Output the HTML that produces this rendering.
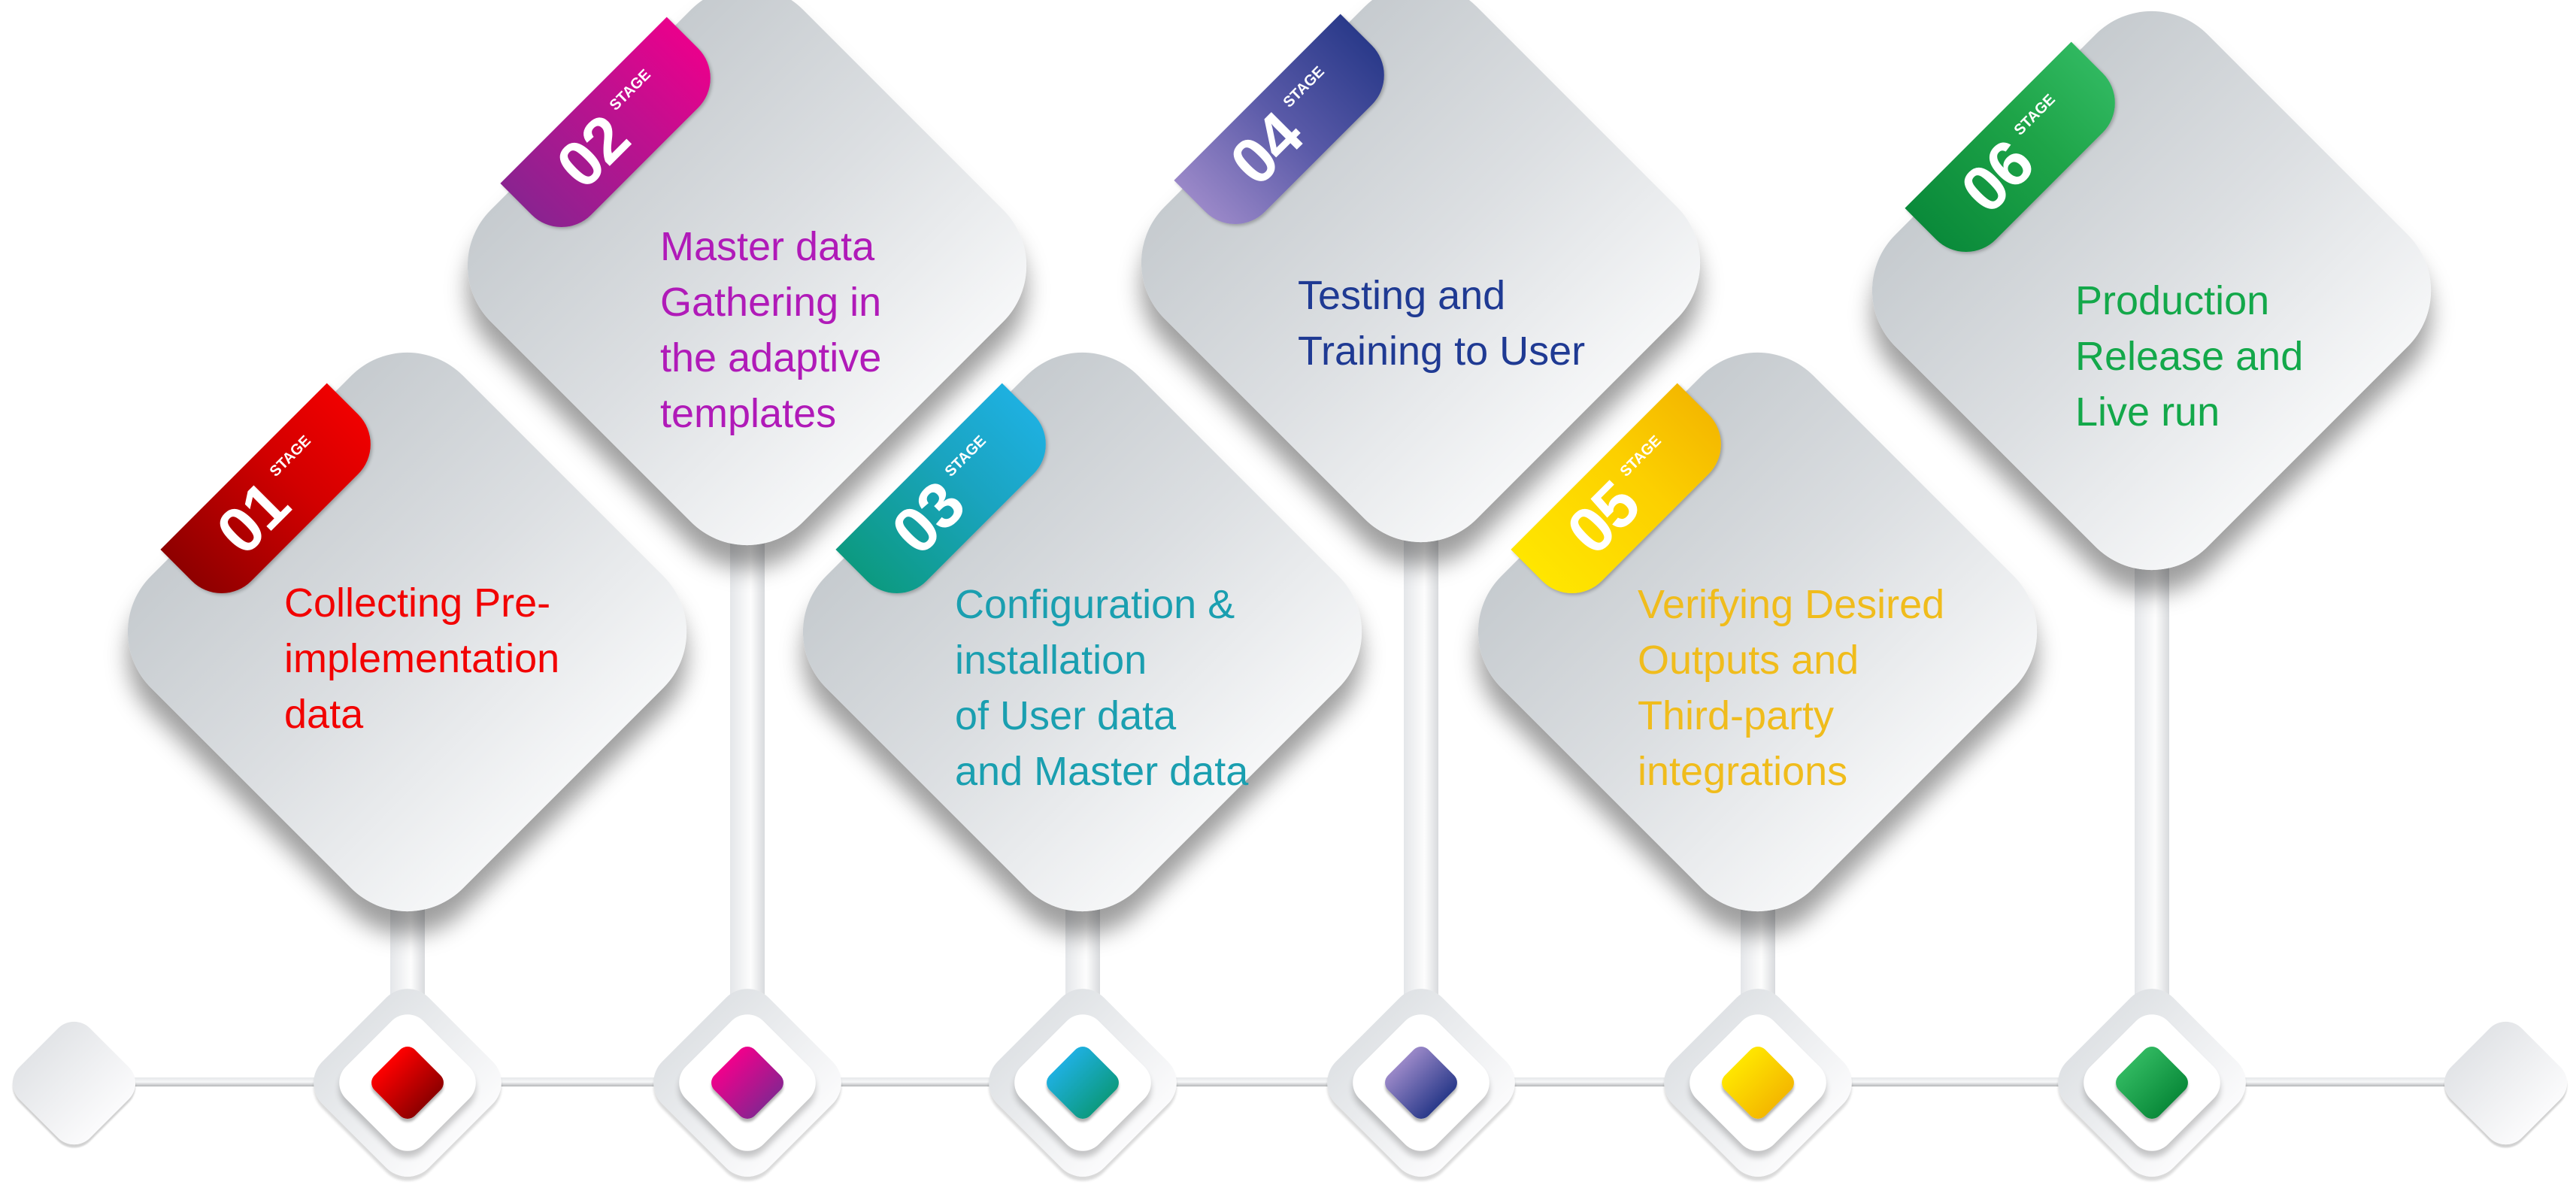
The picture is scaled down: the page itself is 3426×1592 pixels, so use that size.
<!DOCTYPE html>
<html><head><meta charset="utf-8"><style>
html,body{margin:0;padding:0;background:#fff;}
body{width:3426px;height:1592px;position:relative;overflow:hidden;font-family:"Liberation Sans",sans-serif;}
.abs{position:absolute;}
.big{position:absolute;width:587px;height:587px;border-radius:105px;transform:rotate(45deg);
 background:linear-gradient(90deg,#c6cbcf 0%,#dcdfe2 50%,#f6f7f8 100%);
 box-shadow:22px 22px 30px rgba(0,0,0,.38);overflow:visible;}
.rib{position:absolute;left:-16px;top:135px;width:115px;height:313px;border-radius:0 56px 56px 0;
 box-shadow:3px 0 4px rgba(0,0,0,.25);}
.rib .lab{position:absolute;left:57px;top:156px;width:313px;height:115px;transform:translate(-50%,-50%) rotate(-90deg);
 display:flex;align-items:center;justify-content:center;color:#fff;font-weight:bold;}
.rib .num{font-size:86px;letter-spacing:-2px;line-height:1;}
.rib .stg{font-size:20px;margin-left:14px;margin-top:-44px;}
.txt{position:absolute;font-size:54px;line-height:74px;white-space:nowrap;}
.stem{position:absolute;width:46px;background:linear-gradient(90deg,#e4e6e9,#fdfdfd 60%,#d8dadd);}
.node{position:absolute;width:200px;height:200px;border-radius:40px;transform:rotate(45deg);
 background:linear-gradient(90deg,#dfe2e5,#fbfbfc);box-shadow:4px 4px 3px rgba(0,0,0,.15);}
.ring{position:absolute;left:27px;top:27px;width:146px;height:146px;border-radius:30px;background:#fff;box-shadow:6px 6px 8px rgba(0,0,0,.2);}
.core{position:absolute;left:35px;top:35px;width:76px;height:76px;border-radius:14px;box-shadow:3px 3px 3px rgba(0,0,0,.3);}
.endd{position:absolute;width:133px;height:133px;border-radius:30px;transform:rotate(45deg);
 background:linear-gradient(90deg,#e2e4e7,#fbfbfc);box-shadow:3px 3px 2px rgba(0,0,0,.18);}
</style></head><body>

<div class="abs" style="left:98px;top:1433px;width:3234px;height:12px;background:linear-gradient(180deg,#e6e8ea,#f6f7f8 50%,#b5b7b9);"></div>

<div class="stem" style="left:519px;top:1190px;height:250px;"></div>
<div class="stem" style="left:971px;top:700px;height:740px;"></div>
<div class="stem" style="left:1417px;top:1190px;height:250px;"></div>
<div class="stem" style="left:1867px;top:700px;height:740px;"></div>
<div class="stem" style="left:2315px;top:1190px;height:250px;"></div>
<div class="stem" style="left:2839px;top:735px;height:705px;"></div>

<div class="big" style="left:248px;top:547px;"><div class="rib" style="background:linear-gradient(0deg,#8e0000,#d10000 60%,#f00000);"><div class="lab"><span class="num">01</span><span class="stg">STAGE</span></div></div></div>
<div class="big" style="left:700px;top:60px;"><div class="rib" style="background:linear-gradient(0deg,#8a2390,#c0108f 60%,#ea008c);"><div class="lab"><span class="num">02</span><span class="stg">STAGE</span></div></div></div>
<div class="big" style="left:1146px;top:547px;"><div class="rib" style="background:linear-gradient(0deg,#0c9a80,#1aa4c0 60%,#1eb0e0);"><div class="lab"><span class="num">03</span><span class="stg">STAGE</span></div></div></div>
<div class="big" style="left:1596px;top:56px;"><div class="rib" style="background:linear-gradient(0deg,#9a88c8,#5a5aa8 50%,#2a3a8a);"><div class="lab"><span class="num">04</span><span class="stg">STAGE</span></div></div></div>
<div class="big" style="left:2044px;top:547px;"><div class="rib" style="background:linear-gradient(0deg,#ffe600,#fcd000 60%,#f4b800);"><div class="lab"><span class="num">05</span><span class="stg">STAGE</span></div></div></div>
<div class="big" style="left:2568px;top:93px;"><div class="rib" style="background:linear-gradient(0deg,#0a8a3a,#1ea448 60%,#30b860);"><div class="lab"><span class="num">06</span><span class="stg">STAGE</span></div></div></div>

<div class="txt" style="left:378px;top:765px;color:#f20000;">Collecting Pre-<br>implementation<br>data</div>
<div class="txt" style="left:878px;top:291px;color:#b01ab8;">Master data<br>Gathering in<br>the adaptive<br>templates</div>
<div class="txt" style="left:1270px;top:767px;color:#1a9fb0;">Configuration &amp;<br>installation<br>of User data<br>and Master data</div>
<div class="txt" style="left:1726px;top:356px;color:#1f3a93;">Testing and<br>Training to User</div>
<div class="txt" style="left:2178px;top:767px;color:#f0bc1c;">Verifying Desired<br>Outputs and<br>Third-party<br>integrations</div>
<div class="txt" style="left:2760px;top:363px;color:#13a84a;">Production<br>Release and<br>Live run</div>

<div class="endd" style="left:32px;top:1374px;"></div>
<div class="endd" style="left:3266px;top:1374px;"></div>

<div class="node" style="left:442px;top:1340px;"><div class="ring"><div class="core" style="background:linear-gradient(90deg,#ff0000,#8e0000);"></div></div></div>
<div class="node" style="left:894px;top:1340px;"><div class="ring"><div class="core" style="background:linear-gradient(90deg,#f0008c,#8a2390);"></div></div></div>
<div class="node" style="left:1340px;top:1340px;"><div class="ring"><div class="core" style="background:linear-gradient(90deg,#1eb0e0,#0c9a80);"></div></div></div>
<div class="node" style="left:1790px;top:1340px;"><div class="ring"><div class="core" style="background:linear-gradient(90deg,#9a88c8,#2a3a8a);"></div></div></div>
<div class="node" style="left:2238px;top:1340px;"><div class="ring"><div class="core" style="background:linear-gradient(90deg,#ffe600,#f4b800);"></div></div></div>
<div class="node" style="left:2762px;top:1340px;"><div class="ring"><div class="core" style="background:linear-gradient(90deg,#30b860,#0a8a3a);"></div></div></div>

</body></html>
